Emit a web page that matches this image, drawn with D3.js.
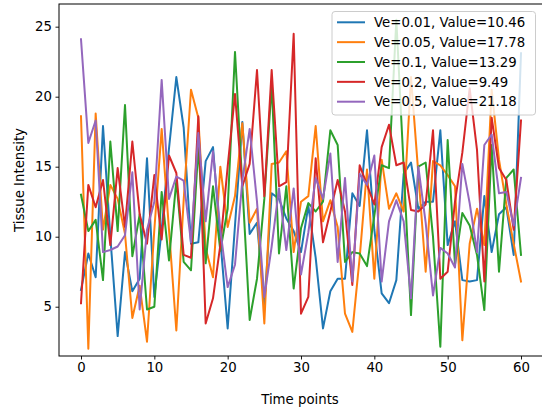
<!DOCTYPE html>
<html>
<head>
<meta charset="utf-8">
<script src="https://cdn.jsdelivr.net/npm/d3@7"></script>
<style>
  html, body { margin: 0; padding: 0; background: #fff; }
  svg { display: block; font-family: "DejaVu Sans", sans-serif; }
</style>
</head>
<body>
<svg id="chart" width="542" height="411"></svg>
<script>
// Time axis: 61 sampled time points
const timePoints = d3.range(0, 61);

// Tissue intensity per time point, one array per Ve setting
const blueValues = [6.2, 8.8, 7.1, 17.9, 10.0, 2.9, 8.9, 6.1, 7.0, 15.6,
  5.7, 10.5, 16.3, 21.4, 17.8, 9.5, 9.6, 15.4, 16.4, 9.8,
  3.45, 10.8, 18.2, 10.2, 11.0, 5.1, 13.1, 12.7, 11.3, 10.4,
  8.9, 12.2, 8.5, 3.45, 6.1, 7.0, 7.0, 13.1, 12.2, 17.6,
  10.5, 5.95, 5.25, 6.9, 14.5, 15.3, 12.0, 12.5, 12.5, 17.6,
  9.4, 11.1, 6.9, 6.8, 6.9, 12.9, 8.9, 11.6, 12.1, 8.7,
  23.1];
const orangeValues = [18.6, 2.0, 18.8, 10.5, 13.7, 12.7, 10.2, 4.2, 6.5, 2.5,
  10.5, 17.7, 10.5, 3.3, 12.6, 20.5, 18.5, 9.2, 7.1, 15.0,
  10.7, 12.9, 18.1, 11.0, 12.0, 3.8, 15.2, 15.3, 16.1, 8.9,
  12.5, 12.9, 17.9, 11.1, 12.6, 10.7, 4.5, 3.2, 8.5, 14.8,
  7.0, 15.5, 12.0, 13.1, 11.8, 21.4, 14.5, 7.5, 15.4, 15.1,
  14.4, 13.6, 2.6, 9.5, 12.0, 9.4, 20.5, 15.5, 12.3, 9.5,
  6.8];
const greenValues = [13.0, 10.4, 11.2, 6.9, 16.8, 10.4, 19.4, 8.6, 11.6, 4.8,
  5.0, 13.2, 8.3, 14.0, 8.2, 7.6, 16.4, 8.1, 13.6, 9.0,
  12.0, 23.2, 13.7, 4.05, 7.0, 12.7, 20.9, 8.8, 13.6, 6.3,
  10.6, 12.4, 11.8, 12.5, 17.6, 16.55, 8.2, 8.9, 8.8, 7.9,
  11.5, 15.1, 14.9, 25.5, 15.0, 4.4, 15.0, 15.3, 10.0, 2.14,
  16.9, 8.0, 11.7, 10.8, 8.7, 4.76, 16.55, 7.5, 14.2, 14.8,
  8.7];
const redValues = [5.25, 13.7, 12.1, 14.05, 9.4, 14.9, 10.7, 16.8, 11.6, 9.5,
  14.4, 9.8, 15.8, 14.55, 8.7, 8.5, 18.6, 3.8, 5.6, 9.4,
  15.0, 20.2, 13.6, 15.2, 21.9, 12.9, 21.9, 13.6, 13.9, 24.5,
  4.5, 5.7, 15.6, 9.6, 11.8, 14.05, 11.8, 6.55, 15.1, 13.7,
  12.3, 16.4, 18.0, 15.1, 15.3, 11.9, 11.8, 12.3, 17.6, 7.0,
  7.5, 12.5, 16.0, 20.6, 16.2, 6.8, 18.5, 14.9, 14.05, 10.5,
  18.3];
const purpleValues = [24.1, 16.7, 18.3, 8.9, 9.05, 9.3, 10.1, 14.6, 4.8, 10.5,
  12.5, 21.2, 12.7, 14.3, 14.0, 9.6, 17.4, 11.1, 16.1, 10.5,
  6.4, 8.0, 14.0, 17.7, 12.5, 5.7, 9.3, 13.45, 9.05, 13.45,
  7.3, 10.3, 14.2, 12.7, 15.95, 8.2, 14.2, 6.8, 14.5, 13.7,
  15.8, 6.8, 11.1, 12.6, 11.1, 5.6, 15.0, 11.0, 5.8, 9.2,
  8.8, 7.8, 15.2, 12.4, 8.9, 16.55, 17.3, 13.1, 13.2, 10.8,
  14.2];

const seriesLabels = [
  "Ve=0.01, Value=10.46",
  "Ve=0.05, Value=17.78",
  "Ve=0.1, Value=13.29",
  "Ve=0.2, Value=9.49",
  "Ve=0.5, Value=21.18"
];
const seriesColors = ["#1f77b4", "#ff7f0e", "#2ca02c", "#d62728", "#9467bd"];
const seriesValues = [blueValues, orangeValues, greenValues, redValues, purpleValues];

const xTicks = [0, 10, 20, 30, 40, 50, 60];
const yTicks = [5, 10, 15, 20, 25];

// Plot frame
const plot = { left: 59, top: 4, right: 543, bottom: 356 };
const fontSize = 13.3;

const svg = d3.select("#chart");

const x = d3.scaleLinear().domain([-3, 63]).range([plot.left, plot.right]);
const y = d3.scaleLinear().domain([1.48, 26.62]).range([plot.bottom, plot.top]);

const line = d3.line()
  .x((d, i) => x(timePoints[i]))
  .y(d => y(d));

// Clip series to the axes area
svg.append("defs").append("clipPath").attr("id", "plotClip")
  .append("rect")
  .attr("x", plot.left).attr("y", plot.top)
  .attr("width", plot.right - plot.left).attr("height", plot.bottom - plot.top);

const linesG = svg.append("g").attr("clip-path", "url(#plotClip)");
seriesValues.forEach((vals, k) => {
  linesG.append("path")
    .datum(vals)
    .attr("d", line)
    .attr("fill", "none")
    .attr("stroke", seriesColors[k])
    .attr("stroke-width", 2)
    .attr("stroke-linejoin", "round")
    .attr("stroke-linecap", "square");
});

// Axes
const xAxis = d3.axisBottom(x).tickValues(xTicks).tickSize(3.5).tickPadding(3.5).tickSizeOuter(0);
const yAxis = d3.axisLeft(y).tickValues(yTicks).tickSize(3.5).tickPadding(3.5).tickSizeOuter(0);

const gx = svg.append("g").attr("transform", `translate(0,${plot.bottom})`).call(xAxis);
const gy = svg.append("g").attr("transform", `translate(${plot.left},0)`).call(yAxis);
[gx, gy].forEach(g => {
  g.select(".domain").remove();
  g.selectAll(".tick line").attr("stroke", "#000").attr("stroke-width", 0.9);
  g.selectAll(".tick text")
    .attr("fill", "#000")
    .style("font-family", "DejaVu Sans")
    .style("font-size", fontSize + "px");
});

// Frame around the axes area
svg.append("rect")
  .attr("x", plot.left).attr("y", plot.top)
  .attr("width", plot.right - plot.left).attr("height", plot.bottom - plot.top)
  .attr("fill", "none")
  .attr("stroke", "#000")
  .attr("stroke-width", 1);

// Axis titles
svg.append("text")
  .attr("x", (plot.left + 541) / 2)
  .attr("y", 404)
  .attr("text-anchor", "middle")
  .style("font-size", fontSize + "px")
  .text("Time points");

svg.append("text")
  .attr("transform", `translate(24,${(plot.top + plot.bottom) / 2}) rotate(-90)`)
  .attr("text-anchor", "middle")
  .style("font-size", fontSize + "px")
  .text("Tissue Intensity");

// Legend
const legend = svg.append("g");
legend.append("rect")
  .attr("x", 332).attr("y", 11.5)
  .attr("width", 203.5).attr("height", 103.5)
  .attr("rx", 3)
  .attr("fill", "#fff").attr("fill-opacity", 0.8)
  .attr("stroke", "#cccccc").attr("stroke-width", 1);

const rowY = d3.scaleLinear().domain([0, 4]).range([22.3, 101.7]);
seriesLabels.forEach((label, k) => {
  const yy = rowY(k);
  legend.append("line")
    .attr("x1", 337).attr("x2", 365)
    .attr("y1", yy).attr("y2", yy)
    .attr("stroke", seriesColors[k])
    .attr("stroke-width", 2);
  legend.append("text")
    .attr("x", 374).attr("y", yy)
    .attr("dy", "0.36em")
    .style("font-size", fontSize + "px")
    .text(label);
});
</script>
</body>
</html>
